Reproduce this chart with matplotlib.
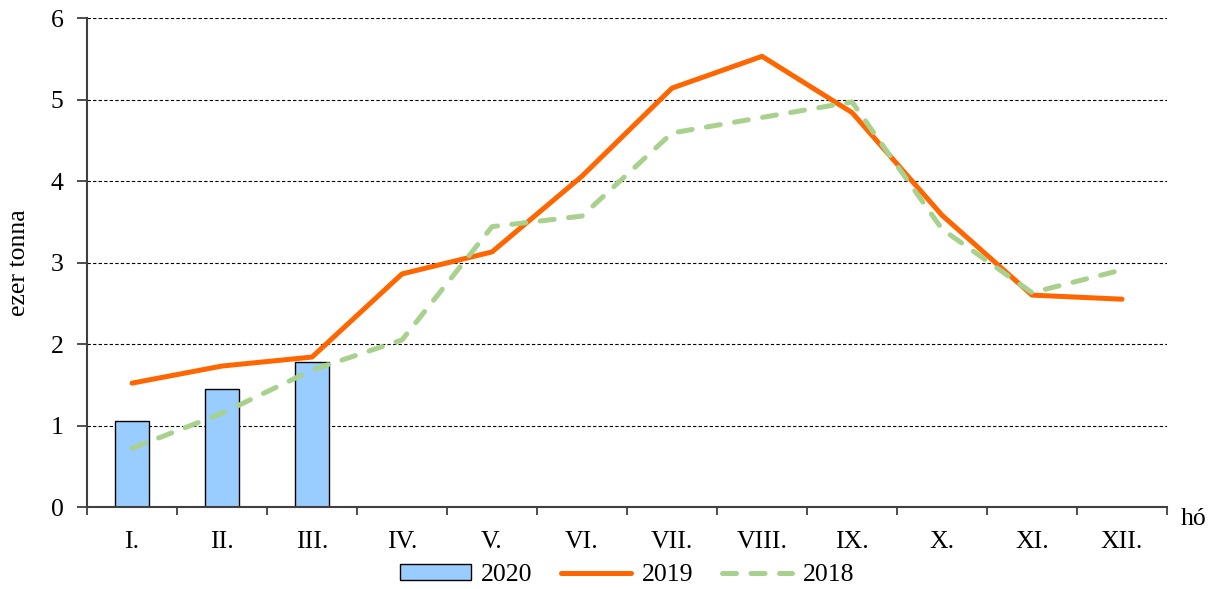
import numpy as np
import matplotlib.pyplot as plt
from matplotlib.ticker import FixedLocator

plt.rcParams['font.family'] = ['Liberation Serif', 'DejaVu Serif']

months = ['I.', 'II.', 'III.', 'IV.', 'V.', 'VI.', 'VII.', 'VIII.', 'IX.', 'X.', 'XI.', 'XII.']
vals_2020 = [1.05, 1.45, 1.78]
vals_2019 = [1.52, 1.73, 1.84, 2.86, 3.13, 4.06, 5.14, 5.53, 4.84, 3.58, 2.60, 2.55]
vals_2018 = [0.72, 1.15, 1.68, 2.05, 3.44, 3.57, 4.59, 4.78, 4.97, 3.41, 2.63, 2.91]

x = np.arange(len(months))
fs = 18.5

fig = plt.figure(figsize=(12.14, 5.89), dpi=100)
ax = fig.add_axes([0.0717, 0.1392, 0.8896, 0.8302])

ax.set_axisbelow(True)
ax.yaxis.grid(True, linestyle=(0, (3, 2)), color='black', linewidth=0.8)

bars = ax.bar(x[:len(vals_2020)], vals_2020, width=0.38, color='#99CCFF',
              edgecolor='black', linewidth=1.0, label='2020')
l19, = ax.plot(x, vals_2019, color='#FF6600', linewidth=3.6, solid_capstyle='round',
               label='2019')
l18, = ax.plot(x, vals_2018, color='#A9D18E', linewidth=3.6, linestyle=(0, (2.8, 2.9)),
               dash_capstyle='round', label='2018')

ax.set_xlim(-0.5, 11.5)
ax.set_ylim(0, 6)
ax.set_yticks(range(7))
ax.set_xticks(x)
ax.set_xticklabels(months)
ax.xaxis.set_minor_locator(FixedLocator(np.arange(-0.5, 12, 1)))
ax.tick_params(axis='x', which='major', length=0, pad=17, labelsize=fs)
ax.tick_params(axis='x', which='minor', length=6, width=1.3, color='#404040')
ax.tick_params(axis='y', length=7, width=1.3, color='#404040', labelsize=fs, pad=10)

for s in ['top', 'right']:
    ax.spines[s].set_visible(False)
for s in ['left', 'bottom']:
    ax.spines[s].set_color('#404040')
    ax.spines[s].set_linewidth(1.5)

ax.set_ylabel('ezer tonna', fontsize=fs, labelpad=15)
ax.text(1.013, -0.024, 'hó', transform=ax.transAxes, fontsize=fs, va='center', ha='left')

ax.legend([bars, l19, l18], ['2020', '2019', '2018'], loc='center',
          bbox_to_anchor=(0.5, -0.139), ncol=3, frameon=False,
          fontsize=fs, handlelength=2.75, handleheight=0.55, columnspacing=1.1,
          handletextpad=0.4, borderpad=0)

fig.savefig('out.png', dpi=100)
